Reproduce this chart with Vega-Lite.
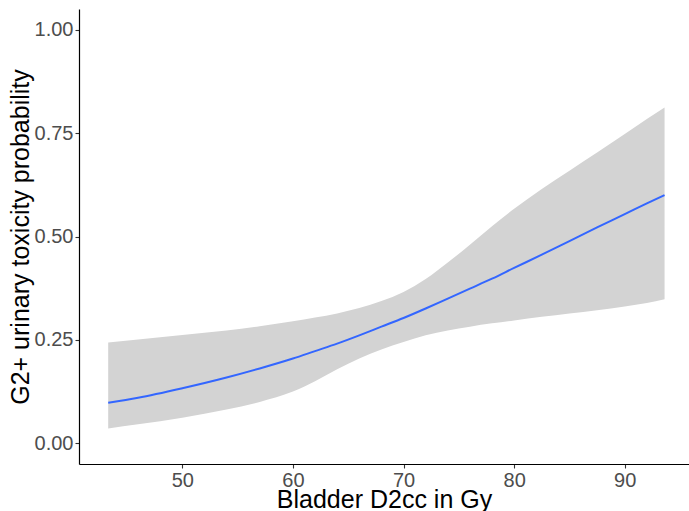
{
  "$schema": "https://vega.github.io/schema/vega-lite/v6.json",
  "width": 610,
  "height": 455,
  "autosize": {"type": "none"},
  "padding": {"left": 79, "top": 9, "right": 0, "bottom": 47},
  "background": "white",
  "config": {
    "view": {"stroke": null},
    "font": "Liberation Sans",
    "axis": {
      "grid": false,
      "domainColor": "#000000",
      "domainWidth": 1.2,
      "tickColor": "#333333",
      "tickSize": 4,
      "tickWidth": 1.1,
      "labelColor": "#4D4D4D",
      "labelFont": "Liberation Sans",
      "labelFontSize": 20,
      "labelPadding": 2,
      "titleColor": "#000000",
      "titleFont": "Liberation Sans",
      "titleFontSize": 25,
      "titleFontWeight": "normal"
    }
  },
  "data": {
    "values": [
      {"dose": 43.3, "fit": 0.098, "lower": 0.036, "upper": 0.244},
      {"dose": 46, "fit": 0.110, "lower": 0.046, "upper": 0.251},
      {"dose": 50, "fit": 0.133, "lower": 0.062, "upper": 0.262},
      {"dose": 54, "fit": 0.159, "lower": 0.082, "upper": 0.273},
      {"dose": 57, "fit": 0.181, "lower": 0.100, "upper": 0.283},
      {"dose": 60, "fit": 0.205, "lower": 0.125, "upper": 0.295},
      {"dose": 62, "fit": 0.223, "lower": 0.150, "upper": 0.304},
      {"dose": 64, "fit": 0.241, "lower": 0.179, "upper": 0.314},
      {"dose": 66, "fit": 0.261, "lower": 0.205, "upper": 0.327},
      {"dose": 68, "fit": 0.282, "lower": 0.227, "upper": 0.344},
      {"dose": 70, "fit": 0.303, "lower": 0.245, "upper": 0.366},
      {"dose": 72, "fit": 0.326, "lower": 0.261, "upper": 0.397},
      {"dose": 74, "fit": 0.350, "lower": 0.273, "upper": 0.437},
      {"dose": 76, "fit": 0.374, "lower": 0.282, "upper": 0.480},
      {"dose": 78, "fit": 0.398, "lower": 0.290, "upper": 0.525},
      {"dose": 80, "fit": 0.424, "lower": 0.297, "upper": 0.567},
      {"dose": 82.5, "fit": 0.456, "lower": 0.306, "upper": 0.615},
      {"dose": 85, "fit": 0.489, "lower": 0.314, "upper": 0.659},
      {"dose": 87.5, "fit": 0.522, "lower": 0.322, "upper": 0.703},
      {"dose": 90, "fit": 0.554, "lower": 0.331, "upper": 0.748},
      {"dose": 92, "fit": 0.580, "lower": 0.339, "upper": 0.784},
      {"dose": 93.6, "fit": 0.600, "lower": 0.348, "upper": 0.812}
    ]
  },
  "encoding": {
    "x": {
      "field": "dose",
      "type": "quantitative",
      "scale": {"domain": [40.66, 95.81], "nice": false, "zero": false},
      "axis": {
        "title": "Bladder D2cc in Gy",
        "values": [50, 60, 70, 80, 90],
        "titleY": 43,
        "titleBaseline": "alphabetic"
      }
    }
  },
  "layer": [
    {
      "mark": {"type": "area", "color": "#D3D3D3", "opacity": 1, "interpolate": "monotone"},
      "encoding": {
        "y": {
          "field": "lower",
          "type": "quantitative",
          "scale": {"domain": [-0.05, 1.05], "nice": false, "zero": false},
          "axis": {
            "title": "G2+ urinary toxicity probability",
            "values": [0, 0.25, 0.5, 0.75, 1],
            "format": ".2f",
            "titleX": -51,
            "titleBaseline": "alphabetic"
          }
        },
        "y2": {"field": "upper"}
      }
    },
    {
      "mark": {"type": "line", "color": "#3366FF", "strokeWidth": 2, "interpolate": "monotone"},
      "encoding": {
        "y": {"field": "fit", "type": "quantitative"}
      }
    }
  ]
}
